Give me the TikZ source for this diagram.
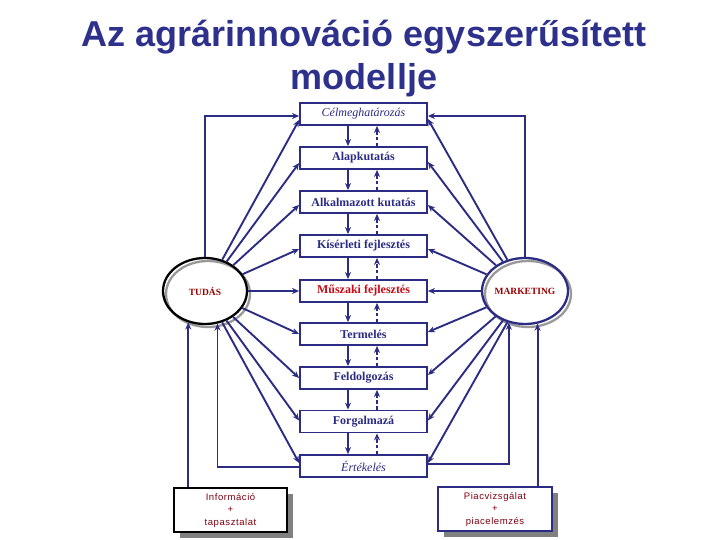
\documentclass[tikz,border=0pt]{standalone}
\usepackage{fontspec}
\setmainfont{Liberation Serif}
\newfontfamily\arialf{Liberation Sans}
\newfontfamily\spacedsans[LetterSpace=6]{Liberation Sans}
\usetikzlibrary{shapes.geometric,arrows.meta}
\definecolor{diagnavy}{RGB}{44,44,132}
\definecolor{titleblue}{RGB}{46,49,140}
\definecolor{keyred}{RGB}{204,10,20}
\definecolor{darkred}{RGB}{150,0,0}
\definecolor{maroon}{RGB}{128,0,16}
\definecolor{shadowgray}{RGB}{128,128,128}
\begin{document}
\begin{tikzpicture}[x=1pt,y=-1pt,
  stagebox/.style={draw=diagnavy, line width=1.8pt, minimum width=127pt, minimum height=22pt,
    inner sep=0pt, font=\bfseries\fontsize{12}{14}\selectfont, text=diagnavy, fill=white},
  italbox/.style={stagebox, font=\itshape\fontsize{12}{14}\selectfont},
  conn/.style={draw=diagnavy, line width=1.9pt, -{Stealth[length=7pt,width=6pt]}},
  dconn/.style={conn, dash pattern=on 3.5pt off 2.2pt},
  ring/.style={ellipse, line width=2.3pt, minimum width=84pt, minimum height=66pt, inner sep=0pt,
    font=\bfseries\fontsize{9.5}{11}\selectfont, text=darkred},
  shadowring/.style={draw=shadowgray!80, line width=2.3pt},
  notebox/.style={line width=2pt, fill=white, minimum width=113pt, minimum height=44pt,
    inner sep=0pt, align=center, text=maroon, font=\spacedsans\fontsize{9.5}{12.5}\selectfont},
  titlefont/.style={font=\arialf\bfseries\fontsize{36}{43}\selectfont, text=titleblue}
]
\useasboundingbox (0,0) rectangle (720,540);

% title
\node[titlefont, anchor=base] (t1) at (364,47) {Az agrárinnováció egyszerűsített};
\node[titlefont, anchor=base] (t2) at (364,90) {modellje};

% stage boxes
\node[italbox] (c1) at (363.5,114) {Célmeghatározás};
\node[stagebox] (c2) at (363.5,158) {Alapkutatás};
\node[stagebox] (c3) at (363.5,202) {Alkalmazott kutatás};
\node[stagebox] (c4) at (363.5,246) {Kísérleti fejlesztés};
\node[stagebox, text=keyred] (c5) at (363.5,291) {Műszaki fejlesztés};
\node[stagebox] (c6) at (363.5,334) {Termelés};
\node[stagebox] (c7) at (363.5,378) {Feldolgozás};
\node[stagebox] (c8) at (363.5,421.5) {Forgalmazá};
\node[italbox] (c9) at (363.5,466) {Értékelés};

% vertical arrows between stages
\foreach \a/\b in {c1/c2,c2/c3,c3/c4,c4/c5,c5/c6,c6/c7,c7/c8,c8/c9}{
  \draw[conn] ([xshift=-15.5pt]\a.south) -- ([xshift=-15.5pt]\b.north);
  \draw[dconn] ([xshift=13.5pt]\b.north) -- ([xshift=13.5pt]\a.south);
}

% ellipses
\draw[shadowring] (208,294) ellipse [x radius=42, y radius=33];
\node[ring, draw=black] (tudas) at (205,291) {TUDÁS};
\draw[shadowring] (528,294) ellipse [x radius=43, y radius=33];
\node[ring, draw=diagnavy, minimum width=86pt] (mkt) at (525,291) {MARKETING};

% note boxes with shadows
\fill[shadowgray] (180,494) rectangle (293,538);
\node[notebox, draw=black] (info) at (230.5,510) {Információ\\+\\tapasztalat};
\fill[shadowgray] (444,493) rectangle (558,537);
\node[notebox, draw=diagnavy, minimum width=114pt] (piac) at (495,509) {Piacvizsgálat\\+\\piacelemzés};

% TUDÁS connectors
\draw[conn] (tudas.north) |- ([yshift=-2pt]c1.west);
\draw[conn] (tudas) -- ([yshift=-6pt]c1.west);
\draw[conn] (tudas) -- ([yshift=-5pt]c2.west);
\draw[conn] (tudas) -- ([yshift=-3pt]c3.west);
\draw[conn] (tudas) -- ([yshift=-3pt]c4.west);
\draw[conn] (tudas) -- (c5.west);
\draw[conn] (tudas) -- (c6.west);
\draw[conn] (tudas) -- (c7.west);
\draw[conn] (tudas) -- ([yshift=1pt]c8.west);
\draw[conn] (tudas) -- ([yshift=3pt]c9.west);
\draw[conn] ([yshift=-1pt]c9.west) -| (tudas.-69);
\draw[conn] (info.north -| tudas.-118) -- (tudas.-118);

% MARKETING connectors
\draw[conn] (mkt.north) |- ([yshift=-2pt]c1.east);
\draw[conn] (mkt) -- ([yshift=-5pt]c1.east);
\draw[conn] (mkt) -- ([yshift=-4pt]c2.east);
\draw[conn] (mkt) -- ([yshift=-3pt]c3.east);
\draw[conn] (mkt) -- ([yshift=-3pt]c4.east);
\draw[conn] (mkt) -- (c5.east);
\draw[conn] (mkt) -- ([yshift=2pt]c6.east);
\draw[conn] (mkt) -- ([yshift=3pt]c7.east);
\draw[conn] (mkt) -- ([yshift=1pt]c8.east);
\draw[conn] (mkt) -- ([yshift=3pt]c9.east);
\draw[conn] ([yshift=2pt]c9.east) -| (mkt.-117);
\draw[conn] (piac.north -| mkt.-69) -- (mkt.-69);
\end{tikzpicture}
\end{document}
